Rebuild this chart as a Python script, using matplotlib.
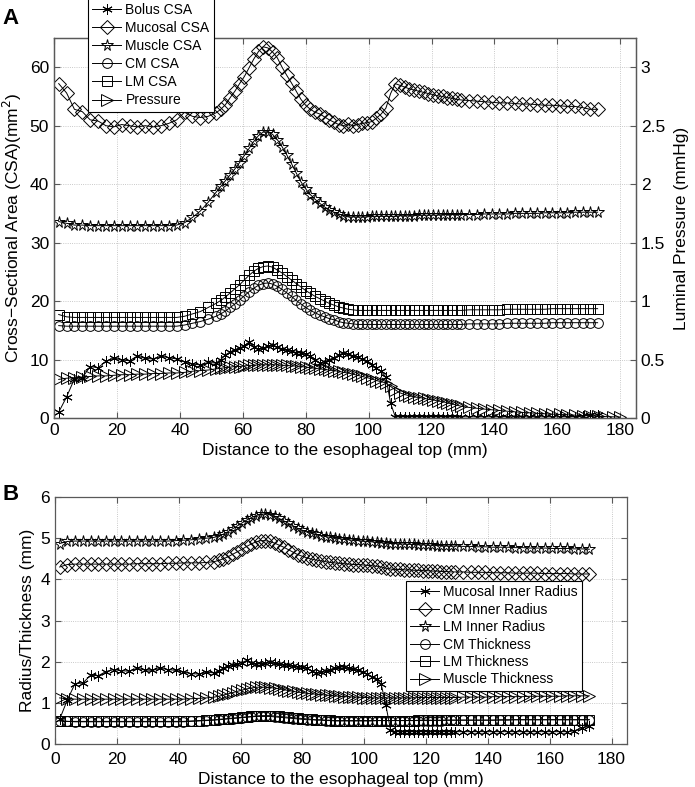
import numpy as np
import matplotlib
matplotlib.use("Agg")
import matplotlib.pyplot as plt
from matplotlib.ticker import FormatStrFormatter

plt.rcParams['font.family'] = ['Liberation Sans', 'DejaVu Sans']

# sample positions along the esophagus (mm)
x_grid = np.concatenate([np.arange(1.5, 52, 2.5),
                         np.arange(53, 130, 1.5),
                         np.arange(132, 173.5, 2.4)])
x_press = np.concatenate([x_grid, [175.2, 177.6, 180.0]])

# ---- panel A: cross-sectional areas (mm^2) ----
bolus_csa = [1.0, 3.6, 6.7, 6.9, 8.8, 8.6, 9.7, 10.3, 9.9, 9.8, 10.6, 10.2, 10.1, 10.6, 10.3, 10.1, 9.6, 9.2, 9.1, 9.5, 9.4,
             10.0, 10.8, 11.3, 11.7, 12.0, 12.3, 13.0, 12.2, 11.8, 11.9,
             12.3, 12.4, 12.1, 11.8, 11.6, 11.4, 11.2, 11.1, 10.9, 10.6,
             10.0, 9.4, 9.6, 10.0, 10.3, 10.8, 11.1, 10.9, 10.6, 10.4,
             10.1, 9.7, 9.1, 8.5, 8.0, 7.0, 2.5, 0.2, 0.2, 0.2,
             0.2, 0.2, 0.2, 0.2, 0.2, 0.2, 0.2, 0.2, 0.2, 0.2,
             0.2, 0.2,
             0.2, 0.2, 0.2, 0.2, 0.2, 0.2, 0.2, 0.2, 0.2, 0.2, 0.2, 0.2, 0.2, 0.2, 0.2, 0.3, 0.5, 0.5]
mucosal_csa = [57.2, 55.6, 52.8, 52.4, 51.0, 50.8, 50.0, 49.8, 50.2, 50.0, 49.8, 50.0, 49.8, 50.0, 50.4, 51.0, 52.3, 51.6, 51.4, 51.6, 52.2,
               52.8, 53.6, 54.8, 55.9, 57.2, 58.4, 59.9, 61.4, 62.7, 63.5,
               63.3, 62.6, 61.6, 60.0, 58.6, 57.3, 55.9, 54.5, 53.5, 52.8,
               52.3, 52.0, 51.5, 51.0, 50.6, 50.2, 50.0, 50.3, 50.0, 50.2,
               50.4, 50.5, 50.7, 51.3, 52.0, 53.0, 55.5, 57.2, 56.9, 56.6,
               56.3, 56.1, 55.9, 55.7, 55.5, 55.3, 55.1, 55.0, 54.8, 54.7,
               54.5, 54.4,
               54.3, 54.2, 54.1, 54.0, 53.9, 53.9, 53.8, 53.7, 53.7, 53.6, 53.5, 53.5, 53.4, 53.3, 53.3, 53.1, 52.8, 52.8]
muscle_csa = [33.6, 33.3, 33.0, 33.0, 32.9, 32.9, 32.9, 32.9, 32.9, 32.9, 32.9, 32.9, 32.9, 32.9, 32.9, 33.0, 33.4, 34.3, 35.4, 36.9, 38.6,
              39.6, 40.6, 41.6, 42.6, 43.7, 44.9, 46.1, 47.3, 48.3, 48.9,
              49.0, 48.5, 47.6, 46.4, 45.0, 43.5, 41.9, 40.4, 39.2, 38.2,
              37.4, 36.7, 36.1, 35.6, 35.2, 34.9, 34.6, 34.4, 34.4, 34.4,
              34.4, 34.4, 34.5, 34.5, 34.5, 34.5, 34.5, 34.5, 34.6, 34.6,
              34.6, 34.6, 34.7, 34.7, 34.7, 34.7, 34.7, 34.8, 34.8, 34.8,
              34.8, 34.8,
              34.8, 34.8, 34.9, 34.9, 34.9, 34.9, 35.0, 35.0, 35.0, 35.0, 35.1, 35.1, 35.1, 35.1, 35.2, 35.2, 35.2, 35.2]
cm_csa = [15.8, 15.7, 15.7, 15.7, 15.7, 15.7, 15.7, 15.7, 15.7, 15.7, 15.7, 15.7, 15.7, 15.7, 15.7, 15.7, 15.9, 16.2, 16.5, 16.9, 17.4,
          17.8, 18.3, 18.9, 19.5, 20.2, 20.9, 21.6, 22.2, 22.7, 23.0,
          23.1, 22.9, 22.5, 22.0, 21.4, 20.8, 20.1, 19.5, 18.9, 18.4,
          18.0, 17.6, 17.3, 17.0, 16.8, 16.5, 16.3, 16.2, 16.1, 16.0,
          16.0, 16.0, 16.0, 16.0, 16.0, 16.0, 16.0, 16.0, 16.0, 16.0,
          16.0, 16.0, 16.0, 16.0, 16.0, 16.0, 16.0, 16.0, 16.0, 16.0,
          16.0, 16.0,
          16.1, 16.1, 16.1, 16.1, 16.1, 16.2, 16.2, 16.2, 16.2, 16.2, 16.2, 16.3, 16.3, 16.3, 16.3, 16.3, 16.3, 16.3]
lm_csa = [17.7, 17.3, 17.2, 17.2, 17.2, 17.2, 17.2, 17.2, 17.2, 17.2, 17.2, 17.2, 17.2, 17.2, 17.2, 17.2, 17.4, 17.8, 18.2, 18.9, 19.6,
          20.1, 20.7, 21.4, 22.1, 22.8, 23.6, 24.4, 25.1, 25.6, 25.9,
          26.0, 25.8, 25.3, 24.8, 24.2, 23.6, 23.0, 22.4, 21.8, 21.3,
          20.8, 20.4, 20.0, 19.6, 19.3, 19.0, 18.8, 18.6, 18.5, 18.4,
          18.4, 18.4, 18.4, 18.4, 18.4, 18.4, 18.4, 18.4, 18.4, 18.4,
          18.4, 18.4, 18.4, 18.4, 18.4, 18.4, 18.4, 18.4, 18.4, 18.4,
          18.4, 18.4,
          18.5, 18.5, 18.5, 18.5, 18.5, 18.6, 18.6, 18.6, 18.6, 18.6, 18.6, 18.7, 18.7, 18.7, 18.7, 18.7, 18.7, 18.7]
pressure = [0.33, 0.34, 0.345, 0.35, 0.355, 0.36, 0.36, 0.365, 0.37, 0.37, 0.375, 0.375, 0.38, 0.38, 0.385, 0.385, 0.39, 0.40, 0.405, 0.41, 0.42,
            0.425, 0.43, 0.435, 0.44, 0.44, 0.445, 0.45, 0.45, 0.455, 0.455,
            0.455, 0.455, 0.455, 0.45, 0.45, 0.445, 0.445, 0.44, 0.435, 0.43,
            0.425, 0.42, 0.415, 0.41, 0.405, 0.40, 0.39, 0.385, 0.375, 0.365,
            0.355, 0.345, 0.335, 0.32, 0.31, 0.30, 0.27, 0.24, 0.215, 0.20,
            0.19, 0.18, 0.175, 0.17, 0.16, 0.155, 0.145, 0.14, 0.13, 0.12,
            0.11, 0.10,
            0.09, 0.083, 0.076, 0.07, 0.064, 0.058, 0.053, 0.048, 0.044, 0.04, 0.036, 0.033, 0.03, 0.027, 0.024, 0.021, 0.018, 0.015,
            0.012, 0.01, 0.008]

# ---- panel B: radii and thicknesses (mm) ----
mucosal_r = [0.60, 1.07, 1.47, 1.48, 1.67, 1.66, 1.76, 1.81, 1.78, 1.77, 1.84, 1.80, 1.79, 1.84, 1.81, 1.79, 1.75, 1.71, 1.70, 1.74, 1.73,
             1.78, 1.85, 1.89, 1.93, 1.95, 1.98, 2.03, 1.97, 1.94, 1.95,
             1.98, 1.99, 1.96, 1.94, 1.92, 1.91, 1.89, 1.88, 1.86, 1.84,
             1.78, 1.73, 1.75, 1.78, 1.81, 1.85, 1.88, 1.86, 1.84, 1.82,
             1.79, 1.76, 1.70, 1.64, 1.59, 1.45, 0.95, 0.35, 0.30, 0.30,
             0.30, 0.30, 0.30, 0.30, 0.30, 0.30, 0.30, 0.30, 0.30, 0.30,
             0.30, 0.30,
             0.30, 0.30, 0.30, 0.30, 0.30, 0.30, 0.30, 0.30, 0.30, 0.30, 0.30, 0.30, 0.30, 0.30, 0.30, 0.32, 0.40, 0.44]
cm_r = [4.30, 4.36, 4.37, 4.37, 4.37, 4.37, 4.37, 4.37, 4.37, 4.37, 4.38, 4.38, 4.38, 4.38, 4.39, 4.39, 4.40, 4.40, 4.40, 4.41, 4.43,
        4.46, 4.50, 4.55, 4.61, 4.67, 4.73, 4.80, 4.86, 4.91, 4.94,
        4.94, 4.92, 4.88, 4.83, 4.78, 4.72, 4.66, 4.60, 4.56, 4.52,
        4.49, 4.47, 4.45, 4.43, 4.41, 4.40, 4.39, 4.38, 4.37, 4.36,
        4.36, 4.35, 4.34, 4.33, 4.32, 4.30, 4.27, 4.25, 4.24, 4.24,
        4.23, 4.23, 4.22, 4.22, 4.21, 4.21, 4.20, 4.20, 4.19, 4.19,
        4.18, 4.18,
        4.18, 4.17, 4.17, 4.17, 4.16, 4.16, 4.16, 4.15, 4.15, 4.15, 4.15, 4.14, 4.14, 4.14, 4.14, 4.13, 4.13, 4.13]
lm_r = [4.87, 4.92, 4.93, 4.93, 4.93, 4.93, 4.93, 4.93, 4.93, 4.93, 4.93, 4.93, 4.93, 4.93, 4.93, 4.94, 4.95, 4.96, 4.98, 5.00, 5.02,
        5.05, 5.10, 5.16, 5.23, 5.30, 5.37, 5.44, 5.50, 5.55, 5.58,
        5.59, 5.57, 5.53, 5.48, 5.42, 5.36, 5.30, 5.24, 5.19, 5.15,
        5.12, 5.09, 5.06, 5.04, 5.02, 5.00, 4.99, 4.97, 4.96, 4.95,
        4.94, 4.93, 4.92, 4.91, 4.90, 4.89, 4.88, 4.87, 4.87, 4.86,
        4.86, 4.85, 4.85, 4.84, 4.84, 4.83, 4.83, 4.82, 4.82, 4.81,
        4.81, 4.81,
        4.80, 4.80, 4.79, 4.79, 4.78, 4.78, 4.78, 4.77, 4.77, 4.76, 4.76, 4.76, 4.75, 4.75, 4.75, 4.74, 4.74, 4.73]
cm_thick = [0.57, 0.55, 0.54, 0.54, 0.54, 0.54, 0.54, 0.54, 0.54, 0.54, 0.54, 0.54, 0.54, 0.54, 0.54, 0.54, 0.54, 0.55, 0.56, 0.57, 0.58,
            0.59, 0.60, 0.61, 0.62, 0.63, 0.64, 0.65, 0.66, 0.67, 0.67,
            0.67, 0.67, 0.66, 0.65, 0.64, 0.63, 0.62, 0.61, 0.60, 0.59,
            0.59, 0.58, 0.58, 0.57, 0.57, 0.56, 0.56, 0.56, 0.56, 0.56,
            0.56, 0.56, 0.56, 0.56, 0.57, 0.57, 0.57, 0.57, 0.57, 0.57,
            0.57, 0.57, 0.57, 0.57, 0.57, 0.57, 0.57, 0.57, 0.57, 0.58,
            0.58, 0.58,
            0.58, 0.58, 0.58, 0.58, 0.58, 0.58, 0.58, 0.59, 0.59, 0.59, 0.59, 0.59, 0.59, 0.59, 0.59, 0.59, 0.59, 0.59]
lm_thick = [0.56, 0.55, 0.55, 0.55, 0.55, 0.55, 0.55, 0.55, 0.55, 0.55, 0.55, 0.55, 0.55, 0.55, 0.55, 0.55, 0.55, 0.56, 0.57, 0.58, 0.59,
            0.60, 0.61, 0.62, 0.63, 0.64, 0.65, 0.66, 0.67, 0.68, 0.69,
            0.69, 0.69, 0.68, 0.67, 0.66, 0.65, 0.64, 0.63, 0.62, 0.61,
            0.60, 0.59, 0.59, 0.58, 0.58, 0.57, 0.57, 0.57, 0.57, 0.57,
            0.57, 0.57, 0.57, 0.57, 0.57, 0.57, 0.57, 0.57, 0.57, 0.57,
            0.57, 0.57, 0.57, 0.58, 0.58, 0.58, 0.58, 0.58, 0.58, 0.58,
            0.58, 0.58,
            0.58, 0.58, 0.58, 0.58, 0.58, 0.59, 0.59, 0.59, 0.59, 0.59, 0.59, 0.59, 0.59, 0.59, 0.59, 0.59, 0.59, 0.59]
muscle_thick = [1.12, 1.10, 1.09, 1.09, 1.09, 1.09, 1.09, 1.09, 1.09, 1.09, 1.09, 1.09, 1.09, 1.09, 1.09, 1.09, 1.09, 1.10, 1.11, 1.12, 1.14,
                1.16, 1.19, 1.22, 1.25, 1.28, 1.31, 1.34, 1.36, 1.38, 1.38,
                1.38, 1.37, 1.36, 1.34, 1.32, 1.30, 1.28, 1.26, 1.25, 1.23,
                1.22, 1.21, 1.20, 1.19, 1.18, 1.17, 1.16, 1.15, 1.15, 1.14,
                1.14, 1.13, 1.13, 1.12, 1.12, 1.12, 1.12, 1.12, 1.12, 1.12,
                1.12, 1.12, 1.12, 1.13, 1.13, 1.13, 1.13, 1.13, 1.13, 1.13,
                1.13, 1.13,
                1.14, 1.14, 1.14, 1.14, 1.15, 1.15, 1.15, 1.15, 1.15, 1.16, 1.16, 1.16, 1.16, 1.16, 1.17, 1.17, 1.17, 1.17]

ASTER = (6, 2, 0)
LW = 0.7
spine_col = '0.35'


def style_axes(ax):
    for s in ax.spines.values():
        s.set_color(spine_col)
        s.set_linewidth(0.9)
    ax.grid(True, linestyle=':', color='0.72', linewidth=0.6)
    ax.tick_params(direction='in', length=4, width=0.8, color=spine_col, labelsize=12.5)


def series(ax, x, y, marker, ms, label):
    return ax.plot(x, y, color='black', lw=LW, marker=marker, ms=ms, mfc='none',
                   mec='black', mew=0.7, label=label)[0]


fig = plt.figure(figsize=(6.95, 7.87), dpi=100)

# ---------------- panel A ----------------
axA = fig.add_axes([0.0777, 0.4689, 0.9151 - 0.0777, 0.9517 - 0.4689])
hA = []
hA.append(series(axA, x_grid, bolus_csa, ASTER, 7.5, 'Bolus CSA'))
hA.append(series(axA, x_grid, mucosal_csa, 'D', 7.3, 'Mucosal CSA'))
hA.append(series(axA, x_grid, muscle_csa, '*', 8.5, 'Muscle CSA'))
hA.append(series(axA, x_grid, cm_csa, 'o', 7, 'CM CSA'))
hA.append(series(axA, x_grid, lm_csa, 's', 6.5, 'LM CSA'))
axA.set_xlim(0, 185)
axA.set_ylim(0, 65)
axA.set_xticks(np.arange(0, 181, 20))
axA.set_yticks(np.arange(0, 61, 10))
style_axes(axA)
axA.tick_params(top=True)
axA.set_xlabel('Distance to the esophageal top (mm)', fontsize=12.5, labelpad=4)
axA.set_ylabel('Cross\u2212Sectional Area (CSA)(mm$^2$)', fontsize=12.5, labelpad=4)

axA2 = axA.twinx()
hA.append(series(axA2, x_press, pressure, '>', 8, 'Pressure'))
axA2.set_ylim(0, 3.25)
axA2.set_yticks(np.arange(0, 3.01, 0.5))
axA2.yaxis.set_major_formatter(FormatStrFormatter('%g'))
for s in axA2.spines.values():
    s.set_color(spine_col)
    s.set_linewidth(0.9)
axA2.tick_params(direction='in', length=4, width=0.8, color=spine_col, labelsize=12.5)
axA2.set_ylabel('Luminal Pressure (mmHg)', fontsize=12.5, labelpad=6)
legA = axA2.legend(handles=hA, loc='upper left', bbox_to_anchor=(0.1266, 1.002),
                   bbox_transform=fig.transFigure, fontsize=10, frameon=True, fancybox=False,
                   edgecolor='black', framealpha=1, handlelength=2.1, handletextpad=0.3,
                   labelspacing=0.3, borderpad=0.3, borderaxespad=0)
legA.get_frame().set_linewidth(0.8)

# ---------------- panel B ----------------
axB = fig.add_axes([0.0791, 0.0546, 0.9022 - 0.0791, 0.3685 - 0.0546])
hB = []
hB.append(series(axB, x_grid, mucosal_r, ASTER, 7.5, 'Mucosal Inner Radius'))
hB.append(series(axB, x_grid, cm_r, 'D', 7.3, 'CM Inner Radius'))
hB.append(series(axB, x_grid, lm_r, '*', 8.5, 'LM Inner Radius'))
hB.append(series(axB, x_grid, cm_thick, 'o', 7, 'CM Thickness'))
hB.append(series(axB, x_grid, lm_thick, 's', 6.5, 'LM Thickness'))
hB.append(series(axB, x_grid, muscle_thick, '>', 8, 'Muscle Thickness'))
axB.set_xlim(0, 185)
axB.set_ylim(0, 6)
axB.set_xticks(np.arange(0, 181, 20))
axB.set_yticks(np.arange(0, 7, 1))
style_axes(axB)
axB.tick_params(top=True, right=True)
axB.tick_params(axis='x', pad=6)
axB.set_xlabel('Distance to the esophageal top (mm)', fontsize=12.5, labelpad=3)
axB.set_ylabel('Radius/Thickness (mm)', fontsize=12.5, labelpad=4)
legB = axB.legend(handles=hB, loc='upper left', bbox_to_anchor=(0.584, 0.2618),
                  bbox_transform=fig.transFigure, fontsize=10, frameon=True, fancybox=False,
                  edgecolor='black', framealpha=1, handlelength=2.1, handletextpad=0.3,
                  labelspacing=0.25, borderpad=0.3, borderaxespad=0)
legB.get_frame().set_linewidth(0.8)

fig.text(0.003, 0.99, 'A', fontsize=16, fontweight='bold', va='top', ha='left')
fig.text(0.003, 0.385, 'B', fontsize=16, fontweight='bold', va='top', ha='left')

fig.savefig('out.png', dpi=100)
